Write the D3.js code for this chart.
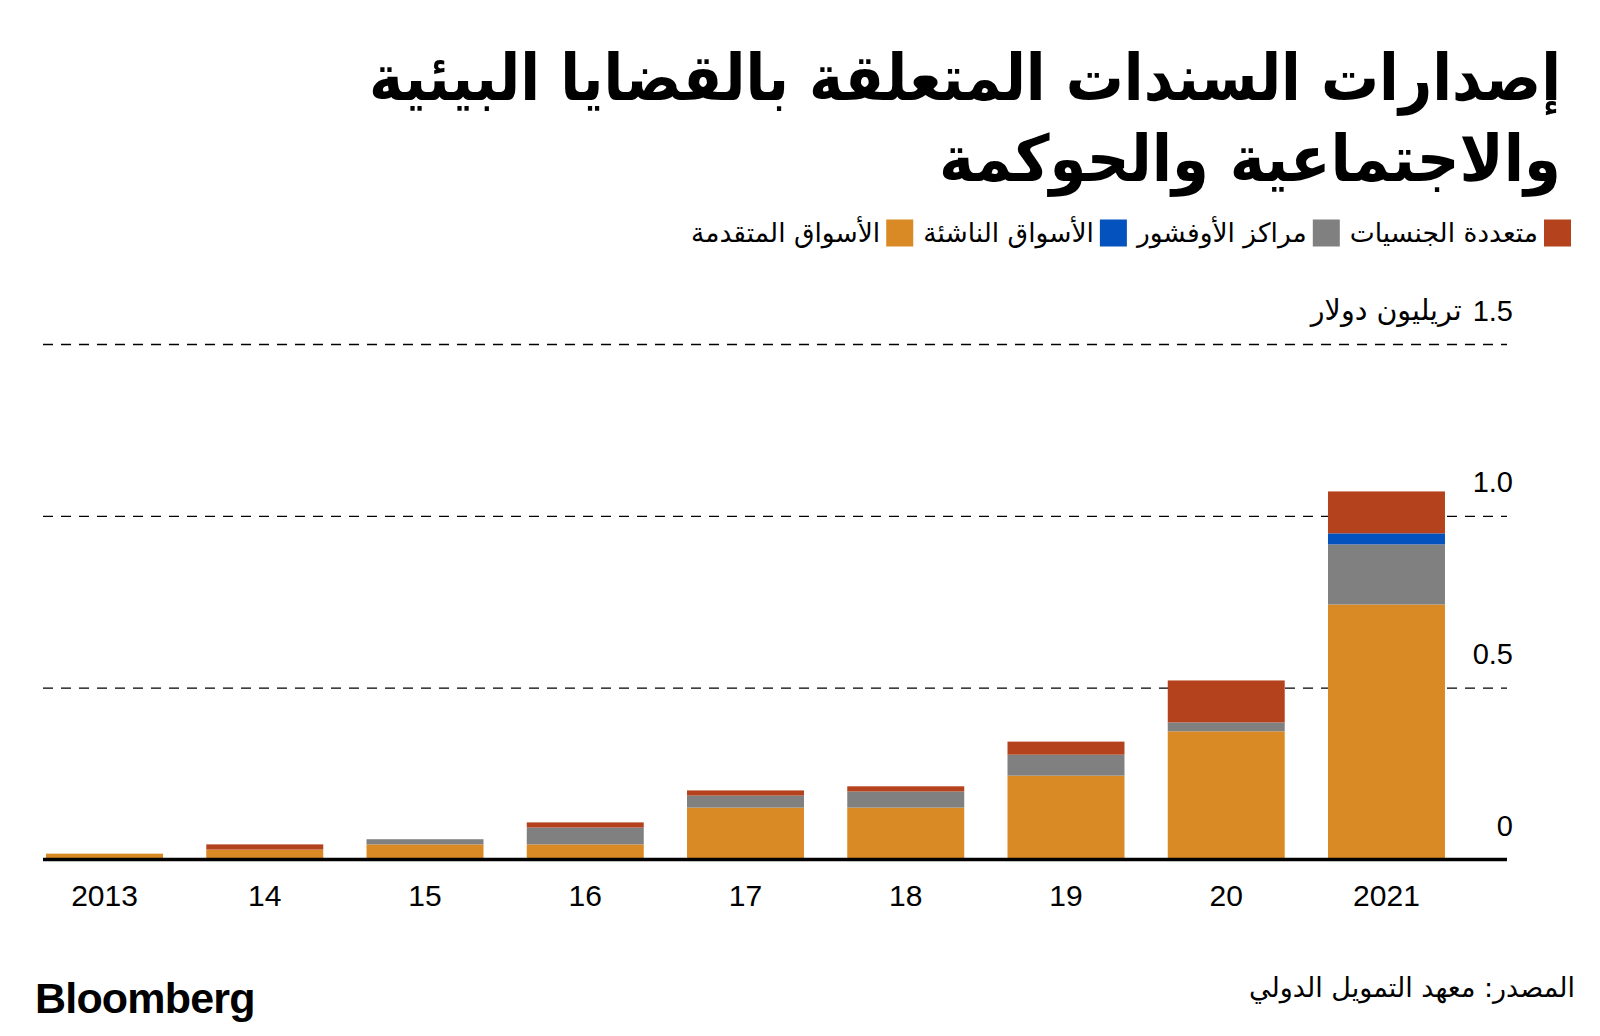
<!DOCTYPE html>
<html>
<head>
<meta charset="utf-8">
<script src="https://cdn.jsdelivr.net/npm/d3@7"></script>
<style>
  body { margin: 0; background: #fff; }
  svg { display: block; }
</style>
</head>
<body>
<svg id="chart" width="1600" height="1036"></svg>
<script>
// ---------- DATA ----------
const years = ["2013", "14", "15", "16", "17", "18", "19", "20", "2021"];
const advancedMarkets = [0.017, 0.029, 0.044, 0.044, 0.151, 0.151, 0.244, 0.373, 0.742]; // الأسواق المتقدمة
const offshoreCenters = [0.000, 0.000, 0.015, 0.049, 0.035, 0.047, 0.061, 0.026, 0.175]; // مراكز الأوفشور
const emergingMarkets = [0.000, 0.000, 0.000, 0.000, 0.000, 0.000, 0.000, 0.000, 0.032]; // الأسواق الناشئة
const supranational   = [0.000, 0.015, 0.000, 0.015, 0.015, 0.015, 0.038, 0.122, 0.122]; // متعددة الجنسيات
const seriesKeys = ["advanced", "offshore", "emerging", "supranational"];
const seriesNames = {
  supranational: "متعددة الجنسيات",
  offshore: "مراكز الأوفشور",
  emerging: "الأسواق الناشئة",
  advanced: "الأسواق المتقدمة"
};
const legendOrder = ["supranational", "offshore", "emerging", "advanced"];
const yTicks = [0, 0.5, 1.0, 1.5];
const unitLabel = "تريليون دولار";
const titleLines = ["إصدارات السندات المتعلقة بالقضايا البيئية", "والاجتماعية والحوكمة"];
const sourceText = "المصدر: معهد التمويل الدولي";

// ---------- STYLE ----------
const colors = {
  advanced: "#DA8A25",
  offshore: "#808080",
  emerging: "#0352BE",
  supranational: "#B4421D"
};
const arabicFont = "'DejaVu Sans', 'Noto Sans', sans-serif";
const latinFont = "'Liberation Sans', Arial, sans-serif";

const svg = d3.select("#chart");

const rows = years.map((yr, i) => ({
  year: yr,
  advanced: advancedMarkets[i],
  offshore: offshoreCenters[i],
  emerging: emergingMarkets[i],
  supranational: supranational[i]
}));

const plotLeft = 43, plotRight = 1507;
const x = d3.scaleBand().domain(years).range([24.4, 1466.6]).paddingInner(0.27).paddingOuter(0.135);
const y = d3.scaleLinear().domain([0, 1.5]).range([859.5, 344]);

// ---------- GRIDLINES ----------
const grid = svg.append("g").attr("transform", `translate(${plotLeft},0)`)
  .call(d3.axisRight(y).tickValues(yTicks.filter(d => d > 0)).tickSize(plotRight - plotLeft).tickFormat(""));
grid.select(".domain").remove();
grid.selectAll("line").attr("stroke", "#000").attr("stroke-width", 1.4).attr("stroke-dasharray", "10,8");

// ---------- BARS ----------
const stacked = d3.stack().keys(seriesKeys)(rows);
svg.append("g").selectAll("g").data(stacked).join("g")
  .attr("fill", d => colors[d.key])
  .selectAll("rect").data(d => d).join("rect")
  .attr("x", d => x(d.data.year))
  .attr("width", x.bandwidth())
  .attr("y", d => y(d[1]))
  .attr("height", d => Math.max(0, y(d[0]) - y(d[1])));

// ---------- BASELINE ----------
svg.append("line")
  .attr("x1", plotLeft).attr("x2", plotRight)
  .attr("y1", y(0)).attr("y2", y(0))
  .attr("stroke", "#000").attr("stroke-width", 3.5);

// ---------- Y AXIS LABELS ----------
const yAxis = svg.append("g").attr("transform", "translate(1513,0)")
  .call(d3.axisLeft(y).tickValues(yTicks).tickSize(0).tickPadding(0)
    .tickFormat(d => d === 0 ? "0" : d3.format(".1f")(d)));
yAxis.select(".domain").remove();
yAxis.selectAll("text")
  .attr("dy", null).attr("y", -24)
  .attr("font-family", latinFont).attr("font-size", 29).attr("fill", "#000");

// unit label next to top tick
const topTick = yAxis.selectAll(".tick").filter(d => d === 1.5).select("text").node();
const tb = topTick.getBBox();
svg.append("text")
  .attr("x", 1513 + tb.x - 11)
  .attr("y", y(1.5) - 24)
  .attr("text-anchor", "end")
  .attr("font-family", arabicFont).attr("font-size", 28.5)
  .attr("fill", "#000")
  .text(unitLabel);

// ---------- X AXIS LABELS ----------
const xAxis = svg.append("g").attr("transform", `translate(0,${y(0)})`)
  .call(d3.axisBottom(x).tickSize(0).tickPadding(0));
xAxis.select(".domain").remove();
xAxis.selectAll("text")
  .attr("dy", null).attr("y", 46)
  .attr("font-family", latinFont).attr("font-size", 30).attr("fill", "#000");

// ---------- TITLE ----------
const titleRight = 1561;
const titleBaselines = [100, 181];
const titleWidths = [1192, 622];
titleLines.forEach((t, i) => {
  const g = svg.append("g");
  const el = g.append("text")
    .attr("x", 0).attr("y", 0)
    .attr("text-anchor", "start")
    .attr("direction", "rtl")
    .attr("font-family", arabicFont).attr("font-weight", "bold")
    .attr("font-size", 64).attr("fill", "#000")
    .text(t);
  const w = el.node().getComputedTextLength();
  const sx = Math.min(1, titleWidths[i] / w);
  g.attr("transform", `translate(${titleRight},${titleBaselines[i]}) scale(${sx},1)`);
});

// ---------- LEGEND ----------
const legend = svg.append("g");
let cursor = 1571;
const sw = 27, legendY = 233;
legendOrder.forEach(k => {
  legend.append("rect")
    .attr("x", cursor - sw).attr("y", legendY - sw / 2)
    .attr("width", sw).attr("height", sw)
    .attr("fill", colors[k]);
  const tx = legend.append("text")
    .attr("x", cursor - sw - 6).attr("y", legendY + 9)
    .attr("text-anchor", "start")
    .attr("direction", "rtl")
    .attr("font-family", arabicFont).attr("font-size", 26.5).attr("fill", "#000")
    .text(seriesNames[k]);
  const w = tx.node().getComputedTextLength();
  cursor = cursor - sw - 6 - w - 10;
});

// ---------- FOOTER ----------
svg.append("text")
  .attr("x", 1575).attr("y", 997)
  .attr("text-anchor", "start")
  .attr("direction", "rtl")
  .attr("font-family", arabicFont).attr("font-size", 27).attr("fill", "#000")
  .text(sourceText);

svg.append("text")
  .attr("x", 35).attr("y", 1013)
  .attr("font-family", latinFont).attr("font-weight", "bold")
  .attr("font-size", 43).attr("letter-spacing", -0.8).attr("fill", "#000")
  .text("Bloomberg");
</script>
</body>
</html>
